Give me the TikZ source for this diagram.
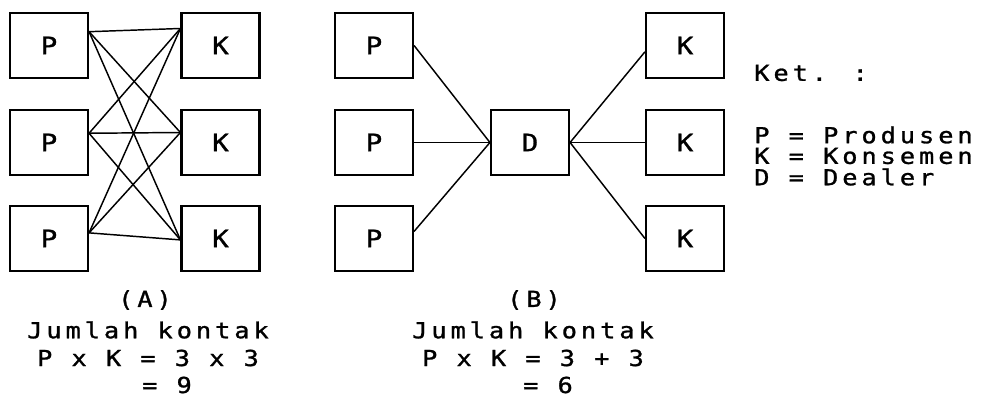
\documentclass[tikz,border=0pt]{standalone}
\usepackage{fontspec}
\newfontfamily\dotfont{DejaVu Sans Mono}[FakeStretch=1.15,LetterSpace=18,FakeBold=1.2]
\newfontfamily\boxfont{DejaVu Sans Mono}[FakeStretch=1.15,FakeBold=1.2]
\begin{document}
\begin{tikzpicture}[x=0.75pt,y=-0.75pt,
  box/.style={draw,line width=1.6pt,minimum width=78*0.75pt,minimum height=65*0.75pt,inner sep=0pt,font=\boxfont\fontsize{18}{18}\selectfont},
  link/.style={line width=1.1pt},
  txt/.style={inner sep=0pt,font=\dotfont\fontsize{16.5}{16.5}\selectfont}]
\useasboundingbox (0,0) rectangle (986,402);
% (A)
\node[box] (pa1) at (49,45.5) {P};
\node[box] (pa2) at (49,142.5) {P};
\node[box] (pa3) at (49,238.5) {P};
\node[box] (ka1) at (220.5,45.5) {K};
\node[box] (ka2) at (220.5,142.5) {K};
\node[box] (ka3) at (220.5,238.5) {K};
\foreach \p/\pa in {pa1/19,pa2/13,pa3/8}
  \foreach \k/\ka in {ka1/157,ka2/166,ka3/182}
    \draw[link] (\p.\pa) -- (\k.\ka);
% (B)
\node[box] (pb1) at (374,45.5) {P};
\node[box] (pb2) at (374,142.5) {P};
\node[box] (pb3) at (374,238.5) {P};
\node[box] (d) at (530,142.5) {D};
\node[box] (kb1) at (685,45.5) {K};
\node[box] (kb2) at (685,142.5) {K};
\node[box] (kb3) at (685,238.5) {K};
\draw[link] (pb1.east) -- (d.west);
\draw[link] (pb2.east) -- (d.west);
\draw[link] (pb3.10) -- (d.west);
\draw[link] (d.east) -- (kb1.189);
\draw[link] (d.east) -- (kb2.west);
\draw[link] (d.east) -- (kb3.west);
% captions
\node[txt] (capa) at (145,300) {(A)};
\node[txt] (ja) at (148,330) {Jumlah kontak};
\node[txt] (fa) at (148,358) {P x K = 3 x 3};
\node[txt] (ra) at (167,385) {= 9};
\node[txt] (capb) at (534,300) {(B)};
\node[txt] (jb) at (533,330) {Jumlah kontak};
\node[txt] (fb) at (533,358) {P x K = 3 + 3};
\node[txt] (rb) at (548,385) {= 6};
% legend
\node[txt,anchor=west] (ket) at (754,73) {Ket. :};
\node[txt,anchor=west] (l1) at (754,135) {P = Produsen};
\node[txt,anchor=west] (l2) at (754,156) {K = Konsemen};
\node[txt,anchor=west] (l3) at (754,177) {D = Dealer};
\end{tikzpicture}
\end{document}
